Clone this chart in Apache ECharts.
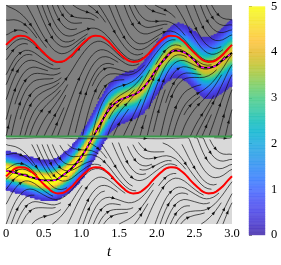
<!DOCTYPE html>
<html><head><meta charset="utf-8">
<script src="https://cdn.jsdelivr.net/npm/echarts@6/dist/echarts.min.js"></script>
<style>html,body{margin:0;padding:0;background:#fff}#c{width:281px;height:265px}</style>
</head><body><div id="c"></div>
<script>
// ---------- values ----------
const tSamples = [0,0.0625,0.125,0.1875,0.25,0.3125,0.375,0.4375,0.5,0.5625,0.625,0.6875,0.75,0.8125,0.875,0.9375,
  1,1.0625,1.125,1.1875,1.25,1.3125,1.375,1.4375,1.5,1.5625,1.625,1.6875,1.75,1.8125,1.875,1.9375,
  2,2.0625,2.125,2.1875,2.25,2.3125,2.375,2.4375,2.5,2.5625,2.625,2.6875,2.75,2.8125,2.875,2.9375,3];
// upper red reference curve
const upperRef = [2.09,2.19,2.27,2.30,2.29,2.23,2.14,2.02,1.91,1.81,1.73,1.70,1.71,1.77,1.86,1.98,
  2.09,2.19,2.27,2.30,2.29,2.23,2.14,2.02,1.91,1.81,1.73,1.70,1.71,1.77,1.86,1.98,
  2.09,2.19,2.27,2.30,2.29,2.23,2.14,2.02,1.91,1.81,1.73,1.70,1.71,1.77,1.86,1.98,2.09];
// lower red reference curve
const lowerRef = [-0.91,-0.81,-0.73,-0.70,-0.71,-0.77,-0.86,-0.98,-1.09,-1.19,-1.27,-1.30,-1.29,-1.23,-1.14,-1.02,
  -0.91,-0.81,-0.73,-0.70,-0.71,-0.77,-0.86,-0.98,-1.09,-1.19,-1.27,-1.30,-1.29,-1.23,-1.14,-1.02,
  -0.91,-0.81,-0.73,-0.70,-0.71,-0.77,-0.86,-0.98,-1.09,-1.19,-1.27,-1.30,-1.29,-1.23,-1.14,-1.02,-0.91];
// density band: centre (dashed line), peak density, spread
const bandT = [0,0.125,0.25,0.375,0.5,0.625,0.75,0.875,1,1.125,1.25,1.375,1.5,1.625,1.75,1.875,2,2.125,2.25,2.375,2.5,2.625,2.75,2.875,3];
const bandCenter = [-0.78,-0.83,-0.89,-0.95,-1.00,-1.00,-0.89,-0.72,-0.46,-0.10,0.28,0.63,0.82,0.91,1.00,1.22,1.54,1.80,1.96,1.91,1.74,1.57,1.59,1.74,1.91];
const bandPeak = [5.6,5.6,5.6,5.6,5.6,5.5,5.4,5.2,5.0,4.7,4.4,4.2,4.1,4.0,4.0,4.0,4.0,4.0,4.0,4.0,4.0,4.0,4.0,4.0,4.0];
const bandSpread = [0.175,0.175,0.175,0.18,0.18,0.185,0.19,0.20,0.21,0.22,0.23,0.23,0.23,0.23,0.23,0.24,0.24,0.24,0.25,0.26,0.27,0.28,0.29,0.30,0.31];
// regions and switching line
const regionLow = [0, -2];
const regionHigh = [3, 0];
const regionColors = ['#808080', '#d9d9d9'];
const switchT = [0, 3];
const switchY = [0, 0];
// attraction rate toward the reference curve (read from streamline slopes)
const attraction = 3.0;
// tick labels
const xTicks = [0, 0.5, 1.0, 1.5, 2.0, 2.5, 3.0];
const cbarTicks = [0, 1, 2, 3, 4, 5];
const parula = ['#3e26a8','#4332cb','#4741e5','#4852f4','#4269fe','#327cfc','#2d8cf3','#259be7','#1ca9df','#08b4d0',
  '#12beb9','#31c69f','#4acb84','#71cc64','#9dc943','#c5c22a','#e6bb2d','#fec338','#f9d62d','#f5e924','#f9fb15'];

// ---------- helpers ----------
const T0 = 0, T1 = 3, Y0 = -2, Y1 = 3;
function interp(ts, vs, t) {
  const n = ts.length, h = ts[1] - ts[0];
  let i = Math.floor((t - ts[0]) / h);
  i = Math.max(0, Math.min(n - 2, i));
  const u = (t - ts[i]) / h;
  const p0 = vs[Math.max(i - 1, 0)], p1 = vs[i], p2 = vs[i + 1], p3 = vs[Math.min(i + 2, n - 1)];
  return 0.5 * (2 * p1 + (-p0 + p2) * u + (2 * p0 - 5 * p1 + 4 * p2 - p3) * u * u + (-p0 + 3 * p1 - 3 * p2 + p3) * u * u * u);
}

// ---------- vector field on a grid (dy/dt) ----------
const NX = 121, NY = 101;
const field = [];
for (let j = 0; j < NY; j++) {
  const y = Y0 + j * (Y1 - Y0) / (NY - 1);
  const row = [];
  for (let i = 0; i < NX; i++) {
    const t = T0 + i * (T1 - T0) / (NX - 1);
    const ref = y >= 0 ? upperRef : lowerRef;
    const h = 0.004;
    const ta = Math.max(0, t - h), tb = Math.min(3, t + h);
    const dr = (interp(tSamples, ref, tb) - interp(tSamples, ref, ta)) / (tb - ta);
    row.push(dr - attraction * (y - interp(tSamples, ref, t)));
  }
  field.push(row);
}
function fieldAt(ax, ay) {
  const fx = ax * (NX - 1), fy = ay * (NY - 1);
  let i = Math.min(NX - 2, Math.max(0, Math.floor(fx))), j = Math.min(NY - 2, Math.max(0, Math.floor(fy)));
  const u = fx - i, w = fy - j;
  return (field[j][i] * (1 - u) + field[j][i + 1] * u) * (1 - w) + (field[j + 1][i] * (1 - u) + field[j + 1][i + 1] * u) * w;
}

// ---------- streamline tracing (matplotlib-style, axes coords) ----------
const NM = 45, mask = new Uint8Array(NM * NM);
let traj = [], cur = null;
function within(x, y) { return x >= 0 && x <= 1 && y >= 0 && y <= 1; }
function upd(x, y) {
  const xm = Math.round(x * (NM - 1)), ym = Math.round(y * (NM - 1));
  if (cur && cur[0] === xm && cur[1] === ym) return true;
  if (mask[ym * NM + xm] === 0) { traj.push(ym * NM + xm); mask[ym * NM + xm] = 1; cur = [xm, ym]; return true; }
  return false;
}
function dir(x, y, sgn) {
  const u = 1 / (T1 - T0), v = fieldAt(x, y) / (Y1 - Y0);
  const s = Math.hypot(u, v);
  return [sgn * u / s, sgn * v / s];
}
function rk12(x0, y0, sgn, maxlength) {
  const maxerror = 0.003, maxds = 1 / NM;
  let ds = maxds, stotal = 0, xi = x0, yi = y0;
  const out = [];
  for (let it = 0; it < 4000; it++) {
    if (!within(xi, yi)) break;
    out.push([xi, yi]);
    const k1 = dir(xi, yi, sgn);
    const xt = xi + ds * k1[0], yt = yi + ds * k1[1];
    if (!within(xt, yt)) {
      const c = k1;
      let dsx = Infinity, dsy = Infinity;
      if (c[0] < 0) dsx = xi / -c[0]; else if (c[0] > 0) dsx = (1 - xi) / c[0];
      if (c[1] < 0) dsy = yi / -c[1]; else if (c[1] > 0) dsy = (1 - yi) / c[1];
      const d = Math.min(dsx, dsy);
      out.push([xi + c[0] * d, yi + c[1] * d]);
      stotal += d;
      break;
    }
    const k2 = dir(xt, yt, sgn);
    const dx1 = ds * k1[0], dy1 = ds * k1[1];
    const dx2 = ds * 0.5 * (k1[0] + k2[0]), dy2 = ds * 0.5 * (k1[1] + k2[1]);
    const err = Math.hypot(dx2 - dx1, dy2 - dy1);
    if (err < maxerror) {
      xi += dx2; yi += dy2;
      if (!within(xi, yi)) break;
      if (!upd(xi, yi)) break;
      if (stotal + ds > maxlength) break;
      stotal += ds;
    }
    ds = err === 0 ? maxds : Math.min(maxds, 0.85 * ds * Math.sqrt(maxerror / err));
  }
  return [stotal, out];
}
function integrate(x0, y0) {
  traj = []; cur = null;
  if (!upd(x0, y0)) return null;
  let st = 0;
  const b = rk12(x0, y0, -1, 4.0);
  st += b[0];
  let pts = b[1].reverse();
  cur = [Math.round(x0 * (NM - 1)), Math.round(y0 * (NM - 1))];
  const f = rk12(x0, y0, 1, 4.0);
  st += f[0];
  pts = pts.concat(f[1].slice(1));
  if (st > 0.1) return pts;
  for (const k of traj) mask[k] = 0;
  return null;
}
const streams = [];
(function () {
  let xf = 0, yf = 1, xl = NM - 1, yl = NM - 1, x = 0, y = 0, d = 'right';
  for (let i = 0; i < NM * NM; i++) {
    if (mask[y * NM + x] === 0) {
      const p = integrate(x / (NM - 1), y / (NM - 1));
      if (p && p.length > 1) streams.push(p.map(q => [T0 + q[0] * (T1 - T0), Y0 + q[1] * (Y1 - Y0)]));
    }
    if (d === 'right') { x++; if (x >= xl) { xl--; d = 'up'; } }
    else if (d === 'up') { y++; if (y >= yl) { yl--; d = 'left'; } }
    else if (d === 'left') { x--; if (x <= xf) { xf++; d = 'down'; } }
    else { y--; if (y <= yf) { yf++; d = 'right'; } }
  }
})();
const arrows = streams.map(p => {
  const s = [0];
  for (let i = 1; i < p.length; i++) s.push(s[i - 1] + Math.hypot(p[i][0] - p[i - 1][0], p[i][1] - p[i - 1][1]));
  const half = s[s.length - 1] / 2;
  let n = 0; while (n < s.length - 2 && s[n + 1] < half) n++;
  const a = p[n], b = p[n + 1];
  return [a[0], a[1], (a[0] + b[0]) / 2, (a[1] + b[1]) / 2];
});

// ---------- density cells ----------
const bandCells = [];
const CT = 150, CY = 150, dT = (T1 - T0) / CT, dY = (Y1 - Y0) / CY;
for (let i = 0; i < CT; i++) {
  const t = T0 + (i + 0.5) * dT;
  const c = interp(bandT, bandCenter, t), P = interp(bandT, bandPeak, t), S = interp(bandT, bandSpread, t);
  for (let j = 0; j < CY; j++) {
    const y = Y0 + (j + 0.5) * dY;
    const z = (y - c) / S;
    const val = P * Math.exp(-0.5 * z * z);
    if (val >= 0.2) bandCells.push([t - dT / 2, y - dY / 2, t + dT / 2, y + dY / 2, Math.min(val, 5)]);
  }
}
// colour-bar cells
const cbarCells = [];
for (let k = 0; k < 100; k++) cbarCells.push([0, k * 0.05, 1, (k + 1) * 0.05, (k + 0.5) * 0.05]);

const serif = "'Liberation Serif','DejaVu Serif',serif";
const rectItem = (api, extra) => {
  const a = api.coord([api.value(0), api.value(3)]), b = api.coord([api.value(2), api.value(1)]);
  return { type: 'rect', shape: { x: a[0] - extra, y: a[1] - extra, width: b[0] - a[0] + 2 * extra, height: b[1] - a[1] + 2 * extra },
    style: { fill: api.visual('color') } };
};
const chart = echarts.init(document.getElementById('c'), null, { renderer: 'canvas', width: 281, height: 265 });
chart.setOption({
  animation: false,
  grid: [
    { left: 2, top: 5, width: 230, height: 230 },
    { left: 249, top: 5, width: 16, height: 230 }
  ],
  xAxis: [
    { type: 'value', min: 0, max: 3, interval: 0.5, gridIndex: 0,
      axisLine: { show: false }, axisTick: { show: false }, splitLine: { show: false },
      axisLabel: { margin: 3, fontFamily: serif, fontSize: 12.5, color: '#000',
        formatter: v => { const k = xTicks.findIndex(q => Math.abs(q - v) < 1e-6); return k < 0 ? '' : (v === 0 ? '0' : xTicks[k].toFixed(1)); } },
      name: 't', nameLocation: 'middle', nameGap: 19,
      nameTextStyle: { fontFamily: serif, fontStyle: 'italic', fontSize: 15, color: '#000', padding: [0, 20, 0, 0] } },
    { type: 'value', gridIndex: 1, min: 0, max: 1, show: false }
  ],
  yAxis: [
    { type: 'value', min: -2, max: 3, gridIndex: 0, show: false },
    { type: 'value', min: 0, max: 5, interval: 1, gridIndex: 1, position: 'right',
      axisLine: { show: false }, splitLine: { show: false },
      axisTick: { show: true, length: 3, lineStyle: { color: '#888', width: 1 } },
      axisLabel: { margin: 6, fontFamily: serif, fontSize: 12.5, color: '#000',
        formatter: v => cbarTicks.includes(v) ? String(v) : '' } }
  ],
  visualMap: {
    type: 'continuous', min: 0, max: 5, dimension: 4, seriesIndex: [1, 9], show: false,
    inRange: { color: parula }
  },
  series: [
    { type: 'custom', name: 'regions', silent: true, z: 1,
      data: regionLow.map((lo, k) => [0, lo, 3, regionHigh[k], k]),
      encode: { x: [0, 2], y: [1, 3] },
      renderItem: (p, api) => {
        const a = api.coord([api.value(0), api.value(3)]), b = api.coord([api.value(2), api.value(1)]);
        return { type: 'rect', shape: { x: a[0], y: a[1], width: b[0] - a[0], height: b[1] - a[1] },
          style: { fill: regionColors[api.value(4)] } };
      } },
    { type: 'custom', name: 'density', silent: true, z: 2,
      data: bandCells, encode: { x: [0, 2], y: [1, 3] },
      renderItem: (p, api) => rectItem(api, 0.3) },
    { type: 'lines', name: 'streamlines', coordinateSystem: 'cartesian2d', polyline: true, silent: true, z: 3,
      data: streams.map(s => ({ coords: s })),
      lineStyle: { color: '#111', width: 0.7, opacity: 1 } },
    { type: 'custom', name: 'arrows', silent: true, z: 4,
      data: arrows, encode: { x: [0, 2], y: [1, 3] },
      renderItem: (p, api) => {
        const a = api.coord([api.value(0), api.value(1)]), b = api.coord([api.value(2), api.value(3)]);
        let dx = b[0] - a[0], dy = b[1] - a[1];
        const L = Math.hypot(dx, dy) || 1; dx /= L; dy /= L;
        const len = 3.6, w = 1.6, tx = b[0] + dx * 1.5, ty = b[1] + dy * 1.5;
        const bx = tx - dx * len, by = ty - dy * len;
        return { type: 'polygon', shape: { points: [[tx, ty], [bx - dy * w, by + dx * w], [bx + dy * w, by - dx * w]] },
          style: { fill: '#111' } };
      } },
    { type: 'line', name: 'upper reference', data: tSamples.map((t, i) => [t, upperRef[i]]), smooth: true,
      showSymbol: false, lineStyle: { color: '#ff0000', width: 2 }, z: 5, silent: true },
    { type: 'line', name: 'lower reference', data: tSamples.map((t, i) => [t, lowerRef[i]]), smooth: true,
      showSymbol: false, lineStyle: { color: '#ff0000', width: 2 }, z: 5, silent: true },
    { type: 'line', name: 'mean', data: bandT.map((t, i) => [t, bandCenter[i]]), smooth: true,
      showSymbol: false, lineStyle: { color: '#000', width: 1.8 }, z: 6, silent: true },
    { type: 'line', name: 'mean dashed', data: bandT.map((t, i) => [t, bandCenter[i]]), smooth: true,
      showSymbol: false, lineStyle: { color: '#ff00ff', width: 1.3, type: [3, 3] }, z: 7, silent: true },
    { type: 'line', name: 'switch', data: switchT.map((t, i) => [t, switchY[i]]),
      showSymbol: false, lineStyle: { color: '#3a9a4a', width: 2 }, z: 8, silent: true },
    { type: 'custom', name: 'colorbar', xAxisIndex: 1, yAxisIndex: 1, silent: true, z: 2,
      data: cbarCells, encode: { x: [0, 2], y: [1, 3] },
      renderItem: (p, api) => { const r = rectItem(api, 0.2); r.style.opacity = 0.85; return r; } }
  ]
});
</script></body></html>
